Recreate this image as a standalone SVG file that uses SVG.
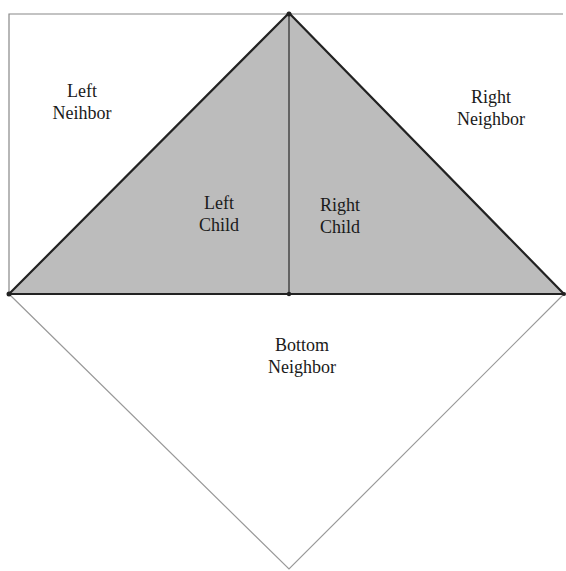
<svg xmlns="http://www.w3.org/2000/svg" width="566" height="571" viewBox="0 0 566 571">
<style>
text{font-family:"Liberation Serif","Times New Roman",serif;font-size:18px;fill:#1a1a1a;text-anchor:middle}
.frame{fill:none;stroke:#888;stroke-width:1.2}
.diamond{fill:none;stroke:#999;stroke-width:1.2}
.tri{fill:#bcbcbc;stroke:#222;stroke-width:2.2;stroke-linejoin:round}
.mid{stroke:#333;stroke-width:1.3}
.dot{fill:#222}
</style>
<rect width="566" height="571" fill="#fff"/>
<g id="connectors">
<polyline class="frame" points="9,294 9,14 563,14"/>
<polyline class="diamond" points="9,294 289,569 564,294"/>
<polygon id="triangle" class="tri" points="9,294 289,13 564,294"/>
<line class="mid" x1="289" y1="13" x2="289" y2="294"/>
<circle class="dot" cx="9" cy="294" r="2.5"/>
<circle class="dot" cx="289" cy="294" r="2.2"/>
<circle class="dot" cx="289" cy="14" r="2.5"/>
<circle class="dot" cx="564" cy="294" r="2"/>
</g>
<g id="left-neighbor"><text x="82" y="97">Left</text><text x="82" y="119">Neihbor</text></g>
<g id="right-neighbor"><text x="491" y="103">Right</text><text x="491" y="125">Neighbor</text></g>
<g id="left-child"><text x="219" y="209">Left</text><text x="219" y="231">Child</text></g>
<g id="right-child"><text x="340" y="211">Right</text><text x="340" y="233">Child</text></g>
<g id="bottom-neighbor"><text x="302" y="351">Bottom</text><text x="302" y="373">Neighbor</text></g>
</svg>
